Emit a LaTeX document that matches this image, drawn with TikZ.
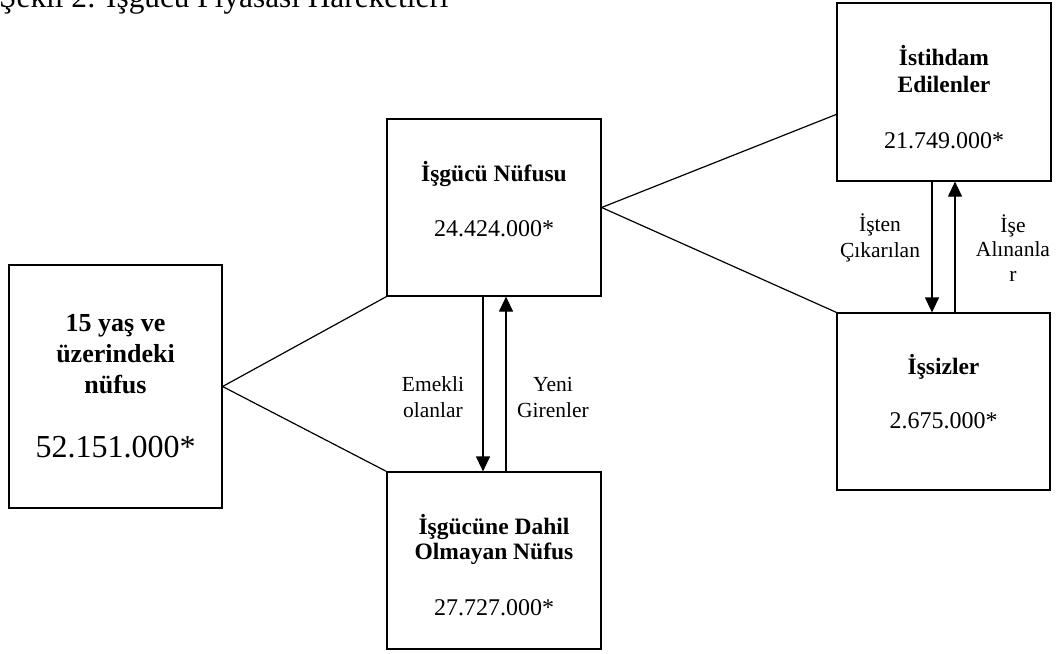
\documentclass[tikz,border=0pt]{standalone}
\usepackage{fontspec}
\setmainfont{Liberation Serif}
\usetikzlibrary{arrows.meta,calc}
\tikzset{
  box/.style={draw, line width=1.2pt, rectangle, inner sep=0pt},
  conn/.style={line width=1.2pt},
  arr/.style={line width=1.2pt, -{Triangle[width=14pt,length=15pt]}},
  btxt/.style={font=\fontsize{23.5}{26}\selectfont\bfseries, align=center, anchor=base, inner sep=0pt},
  ntxt/.style={font=\fontsize{24}{26}\selectfont, anchor=base, inner sep=0pt},
  ltxt/.style={font=\fontsize{21.5}{25.5}\selectfont, align=center, anchor=base, inner sep=0pt},
}
\begin{document}
\begin{tikzpicture}[x=1pt,y=-1pt]
\useasboundingbox (0,0) rectangle (1057,653);
\begin{scope}
\clip (0,0) rectangle (1057,653);
\node[anchor=base west, inner sep=0pt, font=\fontsize{31.3}{34}\selectfont] (title) at (-1,7) {Şekil 2: İşgücü Piyasası Hareketleri};
\end{scope}
% boxes
\node[box, minimum width=213pt, minimum height=243pt] (A) at (115.5,386.5) {};
\node[box, minimum width=214pt, minimum height=177pt] (B) at (494,207.5) {};
\node[box, minimum width=214pt, minimum height=177pt] (D) at (494,560.5) {};
\node[box, minimum width=214pt, minimum height=178pt] (E) at (944,92) {};
\node[box, minimum width=213pt, minimum height=177pt] (U) at (943.5,401.5) {};
% box texts (base anchor = last line baseline)
\node[btxt, font=\fontsize{26}{31}\selectfont\bfseries] (At) at (115.5,393) {15 yaş ve\\üzerindeki\\nüfus};
\node[ntxt, font=\fontsize{32}{38}\selectfont] (An) at (115.5,457) {52.151.000*};
\node[btxt] (Bt) at (494,181) {İşgücü Nüfusu};
\node[ntxt] (Bn) at (494,236) {24.424.000*};
\node[btxt, font=\fontsize{23.5}{24.5}\selectfont\bfseries] (Dt) at (494,559) {İşgücüne Dahil\\Olmayan Nüfus};
\node[ntxt] (Dn) at (494,615) {27.727.000*};
\node[btxt, font=\fontsize{23.5}{27}\selectfont\bfseries] (Et) at (944,92) {İstihdam\\Edilenler};
\node[ntxt] (En) at (944,148) {21.749.000*};
\node[btxt] (Ut) at (943.5,374) {İşsizler};
\node[ntxt] (Un) at (943.5,428) {2.675.000*};
% connectors
\coordinate (Ein) at ($(E.north west)+(0,112)$);
\draw[conn] (A.east) -- (B.south west);
\draw[conn] (A.east) -- (D.north west);
\draw[conn] (B.east) -- (Ein);
\draw[conn] (B.east) -- (U.north west);
% flows
\draw[arr] ([xshift=-11pt]B.south) -- ([xshift=-11pt]B.south |- D.north);
\draw[arr] ([xshift=12pt]D.north) -- ([xshift=12pt]D.north |- B.south);
\draw[arr] ([xshift=-12pt]E.south) -- ([xshift=-12pt]E.south |- U.north);
\draw[arr] ([xshift=11pt]E.south |- U.north) -- ([xshift=11pt]E.south);
% labels (base anchor = last line baseline)
\node[ltxt] (l1) at (433,417) {Emekli\\olanlar};
\node[ltxt] (l2) at (553,417) {Yeni\\Girenler};
\node[ltxt] (l3) at (880,257) {İşten\\Çıkarılan};
\node[ltxt, font=\fontsize{21.5}{24.5}\selectfont] (l4) at (1013,281) {İşe\\Alınanla\\r};
\end{tikzpicture}
\end{document}
